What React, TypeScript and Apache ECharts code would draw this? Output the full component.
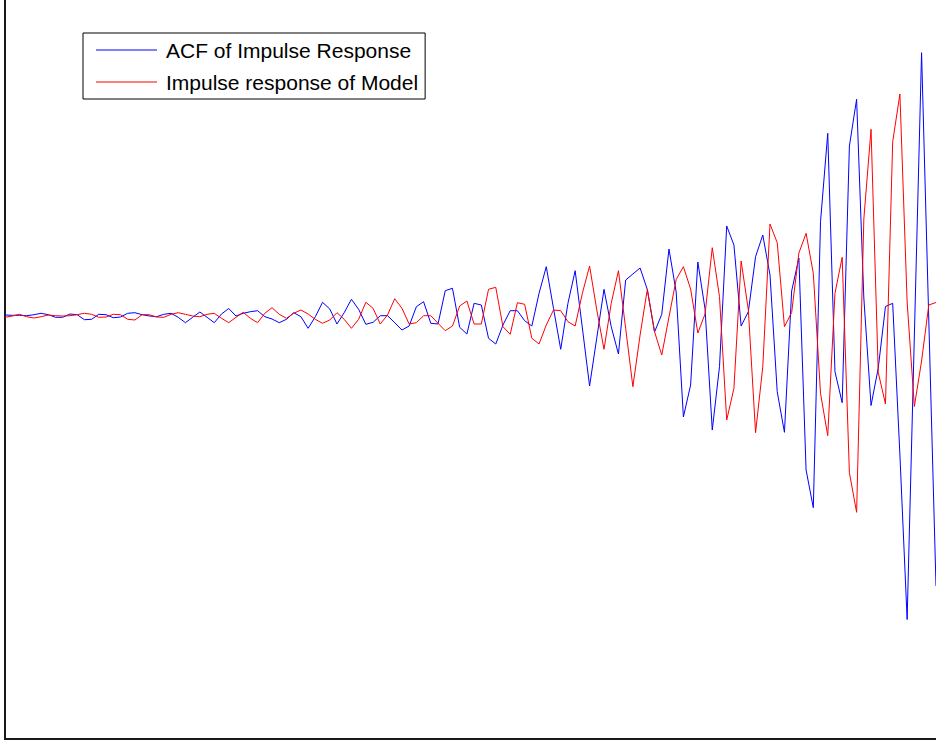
import React, { useEffect, useRef } from "react";
import * as echarts from "echarts";

// Sample lags 0..129
const lags: number[] = Array.from({ length: 130 }, (_, i) => i);

// ACF of the impulse response, per lag
const acfImpulse: number[] = [
  0.01, 0.007, 0.007, 0.003, 0.013, 0.027, 0.013, -0.013, -0.013, 0.02,
  0.013, -0.037, -0.033, 0.017, 0.013, -0.017, -0.01, 0.027, 0.033, 0.013,
  0.0, -0.007, 0.017, 0.027, -0.013, -0.067, -0.013, 0.04, -0.013, -0.067,
  0.02, 0.075, 0.0, 0.027, 0.043, 0.053, -0.007, -0.03, -0.067, -0.033,
  0.033, -0.007, -0.123, -0.007, 0.137, 0.07, -0.08, 0.033, 0.167, 0.067,
  -0.083, -0.063, 0.003, 0.003, -0.067, -0.14, -0.1, 0.093, 0.143, -0.073,
  -0.08, 0.253, 0.277, -0.113, -0.18, 0.127, 0.11, -0.223, -0.28, -0.09,
  0.053, 0.053, -0.047, -0.1, 0.227, 0.493, 0.077, -0.333, 0.127, 0.453,
  -0.12, -0.7, -0.217, 0.267, -0.107, -0.38, 0.36, 0.42, 0.48, 0.265,
  -0.16, 0.017, 0.67, 0.24, -1.01, -0.69, 0.54, 0.07, -1.14, -0.507,
  0.9, 0.71, -0.1, 0.043, 0.593, 0.81, 0.41, -0.757, -1.163, 0.25,
  0.58, -1.54, -1.917, 0.943, 1.827, -0.557, -0.867, 1.7, 2.167, 0.18,
  -0.895, -0.52, 0.095, 0.127, -1.39, -3.035, -0.2, 2.633, -0.04, -2.7,
];

// Impulse response of the fitted model, per lag
const modelImpulse: number[] = [
  -0.013, 0.0, 0.017, -0.007, -0.02, -0.007, 0.01, 0.003, 0.0, 0.003,
  0.013, 0.027, 0.017, -0.013, -0.01, 0.017, 0.013, -0.033, -0.04, 0.013,
  0.013, -0.01, -0.013, 0.017, 0.033, 0.017, 0.0, -0.007, 0.017, 0.027,
  -0.023, -0.067, -0.013, 0.037, -0.023, -0.067, 0.027, 0.083, 0.017, -0.023,
  0.027, 0.06, 0.02, -0.033, -0.073, -0.04, 0.033, -0.033, -0.123, -0.033,
  0.137, 0.077, -0.08, 0.01, 0.173, 0.077, -0.08, -0.067, 0.003, 0.003,
  -0.073, -0.147, -0.1, 0.1, 0.15, -0.08, -0.08, 0.267, 0.287, -0.107,
  -0.183, 0.133, 0.117, -0.223, -0.28, -0.09, 0.06, 0.053, -0.057, -0.1,
  0.227, 0.5, 0.06, -0.333, 0.127, 0.453, -0.123, -0.707, -0.19, 0.267,
  -0.157, -0.39, -0.01, 0.365, 0.493, 0.27, -0.17, 0.02, 0.683, 0.193,
  -1.04, -0.723, 0.55, 0.06, -1.167, -0.507, 0.92, 0.733, -0.107, 0.035,
  0.63, 0.827, 0.427, -0.773, -1.197, 0.227, 0.587, -1.567, -1.963, 0.97,
  1.867, -0.565, -0.88, 1.743, 2.22, 0.14, -0.905, -0.45, 0.11, 0.135,
];

const seriesNames: string[] = ["ACF of Impulse Response", "Impulse response of Model"];

export default function App() {
  const ref = useRef<HTMLDivElement>(null);

  useEffect(() => {
    if (!ref.current) return;
    const chart = echarts.init(ref.current, undefined, { renderer: "svg" });

    const axisLine = {
      show: true,
      onZero: false,
      lineStyle: { color: "#1a1a1a", width: 2 },
    };

    chart.setOption({
      animation: false,
      backgroundColor: "#ffffff",
      grid: { left: 5, right: 0, top: 0, bottom: 3 },
      xAxis: {
        type: "value",
        min: 0,
        max: 129,
        axisLine,
        axisTick: { show: false },
        axisLabel: { show: false },
        splitLine: { show: false },
      },
      yAxis: {
        type: "value",
        min: -4.23,
        max: 3.16,
        axisLine,
        axisTick: { show: false },
        axisLabel: { show: false },
        splitLine: { show: false },
      },
      legend: {
        orient: "vertical",
        left: 83,
        top: 33,
        padding: [5, 7, 5, 13],
        icon: "rect",
        itemWidth: 61,
        itemHeight: 1,
        itemGap: 8,
        borderColor: "#000000",
        borderWidth: 1,
        backgroundColor: "#ffffff",
        textStyle: {
          fontFamily: "Liberation Sans, Arial, sans-serif",
          fontSize: 21,
          lineHeight: 24,
          height: 24,
          color: "#000000",
          padding: [0, 0, 0, 4],
        },
        data: seriesNames,
      },
      series: [
        {
          name: seriesNames[0],
          type: "line",
          symbol: "none",
          data: lags.map((x, i) => [x, acfImpulse[i]]),
          lineStyle: { color: "#0000ff", width: 1 },
          itemStyle: { color: "#0000ff" },
        },
        {
          name: seriesNames[1],
          type: "line",
          symbol: "none",
          data: lags.map((x, i) => [x, modelImpulse[i]]),
          lineStyle: { color: "#ff0000", width: 1 },
          itemStyle: { color: "#ff0000" },
        },
      ],
    });

    return () => chart.dispose();
  }, []);

  return (
    <div
      ref={ref}
      style={{ position: "fixed", left: 0, top: 0, width: 936, height: 742 }}
    />
  );
}
